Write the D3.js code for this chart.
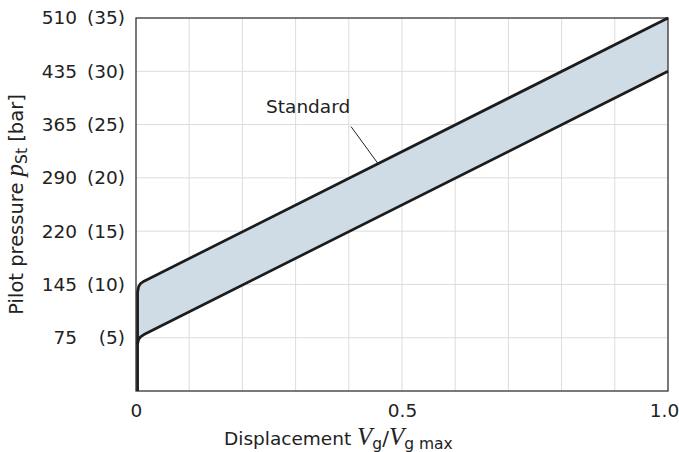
<!DOCTYPE html>
<html>
<head>
<meta charset="utf-8">
<script src="https://cdn.jsdelivr.net/npm/d3@7"></script>
<style>
  body { margin: 0; background: #fff; }
  svg { display: block; }
  text { font-family: "DejaVu Sans", sans-serif; fill: #222; }
</style>
</head>
<body>
<svg id="chart" width="679" height="452"></svg>
<script>
// Displacement axis (relative)
const displacementTicks = [0, 0.5, 1.0];
const displacementLabels = ["0", "0.5", "1.0"];
const displacementGrid = [0.1, 0.2, 0.3, 0.4, 0.5, 0.6, 0.7, 0.8, 0.9];

// Pilot pressure axis: bar values with psi equivalents
const barTicks = [5, 10, 15, 20, 25, 30, 35];
const psiLabels = ["75", "145", "220", "290", "365", "435", "510"];

// Upper limit of the standard band (bar)
const upperDisp = [0.003, 0.003, 0.005, 0.009, 0.015, 1.0];
const upperBar  = [0, 9.3, 9.8, 10.1, 10.3, 35];

// Lower limit of the standard band (bar)
const lowerDisp = [0.003, 0.003, 0.005, 0.009, 0.015, 1.0];
const lowerBar  = [4.4, 4.45, 4.85, 5.1, 5.3, 30];

const bandLabel = "Standard";
const leaderDisp = 0.455;

const width = 679, height = 452;
const margin = { top: 18, right: 11, bottom: 61, left: 136 };
const svg = d3.select("#chart");

const x = d3.scaleLinear().domain([0, 1]).range([margin.left, width - margin.right]);
const y = d3.scaleLinear().domain([0, 35]).range([height - margin.bottom, margin.top]);

const upper = upperDisp.map((d, i) => [d, upperBar[i]]);
const lower = lowerDisp.map((d, i) => [d, lowerBar[i]]);

// grid
const grid = svg.append("g").attr("stroke", "#dcdcdc").attr("stroke-width", 1);
grid.selectAll("line.v").data(displacementGrid).join("line")
  .attr("x1", d => x(d)).attr("x2", d => x(d))
  .attr("y1", y(0)).attr("y2", y(35));
grid.selectAll("line.h").data(barTicks.slice(0, -1)).join("line")
  .attr("x1", x(0)).attr("x2", x(1))
  .attr("y1", d => y(d)).attr("y2", d => y(d));

// band fill
const bandPoly = lower.slice(1).concat(upper.slice(1).reverse());
svg.append("path")
  .attr("d", d3.line().x(d => x(d[0])).y(d => y(d[1]))(bandPoly) + "Z")
  .attr("fill", "#d0dce5");

// frame
svg.append("rect")
  .attr("x", x(0)).attr("y", y(35))
  .attr("width", x(1) - x(0)).attr("height", y(0) - y(35))
  .attr("fill", "none").attr("stroke", "#333").attr("stroke-width", 1.3);

// limit lines
const line = d3.line().x(d => x(d[0])).y(d => y(d[1]));
[upper, lower].forEach(pts => {
  svg.append("path")
    .attr("d", line(pts))
    .attr("fill", "none")
    .attr("stroke", "#1c1c1c")
    .attr("stroke-width", 2.7)
    .attr("stroke-linejoin", "round");
});

// label with leader line to the upper limit
const leaderBar = d3.scaleLinear().domain([upperDisp[4], upperDisp[5]]).range([upperBar[4], upperBar[5]])(leaderDisp);
const lx = x(leaderDisp), ly = y(leaderBar);
svg.append("line")
  .attr("x1", lx).attr("y1", ly)
  .attr("x2", lx - 27).attr("y2", ly - 37)
  .attr("stroke", "#222").attr("stroke-width", 1);
svg.append("text")
  .attr("x", lx - 112).attr("y", ly - 51)
  .attr("font-size", 18.5)
  .text(bandLabel);

// x axis labels
const xAxis = svg.append("g")
  .attr("transform", `translate(0,${y(0)})`)
  .call(d3.axisBottom(x).tickValues(displacementTicks).tickSize(0).tickPadding(13)
    .tickFormat((d, i) => displacementLabels[i]));
xAxis.select(".domain").remove();
xAxis.selectAll("text")
  .attr("font-size", 18.5)
  .style("font-family", '"DejaVu Sans", sans-serif')
  .attr("fill", "#222")
  .attr("dx", (d, i) => i === displacementTicks.length - 1 ? -4 : 0);

// y axis labels: bar in parentheses, psi to the left
const yAxis = svg.append("g")
  .attr("transform", `translate(${x(0)},0)`)
  .call(d3.axisLeft(y).tickValues(barTicks).tickSize(0).tickPadding(11)
    .tickFormat(d => `(${d})`));
yAxis.select(".domain").remove();
yAxis.selectAll("text")
  .attr("font-size", 18.5)
  .style("font-family", '"DejaVu Sans", sans-serif')
  .attr("fill", "#222");
yAxis.selectAll(".tick").append("text")
  .attr("x", -59).attr("dy", "0.32em")
  .attr("text-anchor", "end")
  .attr("font-size", 18.5)
  .attr("fill", "#222")
  .text((d, i) => psiLabels[i]);

// axis titles
const serif = '"Liberation Serif", "DejaVu Serif", serif';
const xt = svg.append("text")
  .attr("x", 224).attr("y", 445)
  .attr("font-size", 18.5);
xt.append("tspan").text("Displacement ");
xt.append("tspan").style("font-family", serif).attr("font-style", "italic").attr("font-size", 25).text("V");
xt.append("tspan").attr("font-size", 15.5).attr("dy", 4).text("g");
xt.append("tspan").attr("dy", -4).attr("font-size", 20).text("/");
xt.append("tspan").style("font-family", serif).attr("font-style", "italic").attr("font-size", 25).text("V");
xt.append("tspan").attr("font-size", 15.5).attr("dy", 4).text("g max");

const yt = svg.append("text")
  .attr("transform", `translate(23,${(y(0) + y(35)) / 2}) rotate(-90)`)
  .attr("text-anchor", "middle")
  .attr("font-size", 19.5);
yt.append("tspan").text("Pilot pressure ");
yt.append("tspan").style("font-family", serif).attr("font-style", "italic").attr("font-size", 25).text("p");
yt.append("tspan").attr("font-size", 15.5).attr("dy", 4).text("St");
yt.append("tspan").attr("dy", -4).text(" [bar]");
</script>
</body>
</html>
